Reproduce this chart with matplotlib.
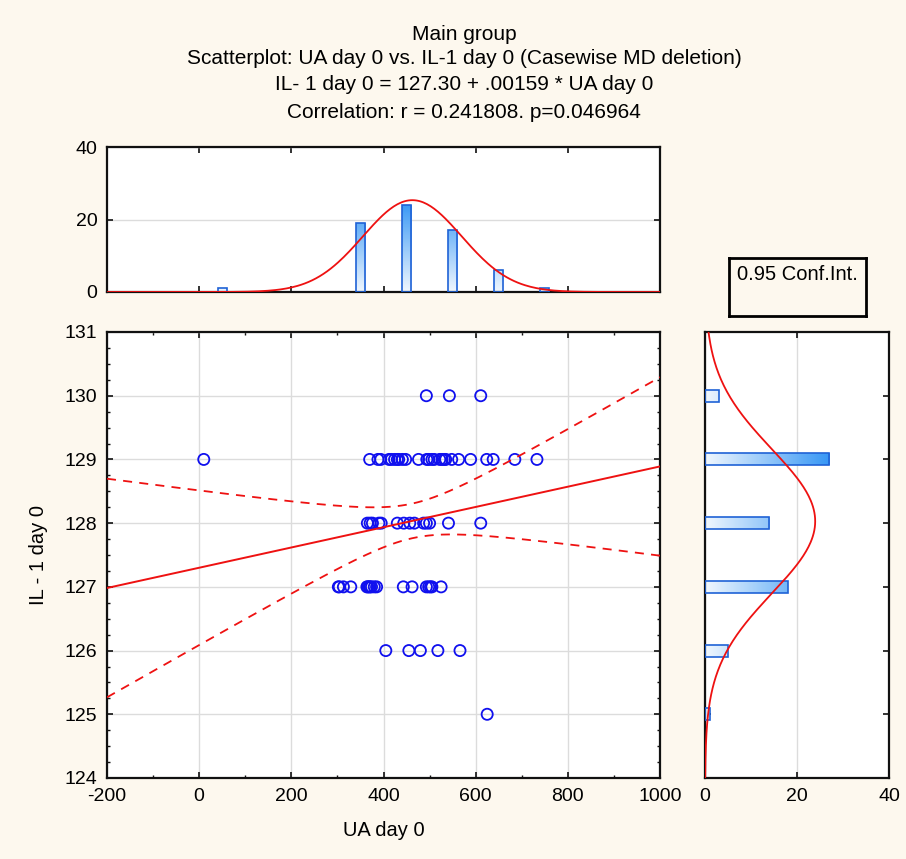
import numpy as np
import matplotlib
matplotlib.use("Agg")
import matplotlib.pyplot as plt
from matplotlib.colors import LinearSegmentedColormap
from matplotlib.ticker import MultipleLocator

plt.rcParams['font.family'] = ['Liberation Sans', 'DejaVu Sans']
plt.rcParams['axes.unicode_minus'] = False

# IL-1 day 0 levels and the UA day 0 values read at each level
il1_levels = [130, 129, 128, 127, 126, 125]
ua_by_level = [
    [493, 543, 611],
    [10, 370, 388, 394, 412, 417, 424, 430, 433, 441, 448, 476, 494, 498,
     505, 510, 522, 527, 532, 535, 548, 563, 589, 624, 638, 685, 733],
    [365, 371, 376, 390, 395, 430, 444, 457, 467, 487, 493, 500, 541, 611],
    [302, 304, 313, 329, 364, 366, 369, 371, 374, 380, 385, 443, 462, 493,
     498, 502, 505, 525],
    [405, 455, 480, 518, 566],
    [625],
]

# fitted line as printed in the header
intercept = 127.30
slope = 0.00159
t_crit = 1.997  # t(0.975, df=66)

title_lines = [
    "Main group",
    "Scatterplot: UA day 0 vs. IL-1 day 0 (Casewise MD deletion)",
    "IL- 1 day 0 = 127.30 + .00159 * UA day 0",
    "Correlation: r = 0.241808. p=0.046964",
]

ua = np.concatenate([np.array(v, float) for v in ua_by_level])
il1 = np.concatenate([np.full(len(v), lv, float) for lv, v in zip(il1_levels, ua_by_level)])
n = len(ua)

bg = '#FDF8EE'
grid_c = '#dcdcdc'
bar_edge = '#1f62d6'
cmap = LinearSegmentedColormap.from_list('bars', ['#f0f7fe', '#3797f5'])

fig = plt.figure(figsize=(9.06, 8.59), dpi=100, facecolor=bg)
W, H = 906, 859


def px_axes(l, t, r, b):
    return fig.add_axes([l / W, 1 - b / H, (r - l) / W, (b - t) / H])


ax = px_axes(107, 332, 660, 778)
axt = px_axes(107, 147, 660, 292)
axr = px_axes(705, 332, 889, 778)
axc = px_axes(729, 258, 866, 316)


def style(a):
    a.set_facecolor('white')
    for s in a.spines.values():
        s.set_linewidth(1.6)
        s.set_color('#111111')
    a.tick_params(which='both', direction='in', top=True, right=True,
                  labelsize=14, color='#111111')
    a.tick_params(which='major', length=4, width=1.2, pad=7)
    a.tick_params(which='minor', length=2.5, width=1)
    a.set_axisbelow(True)


for a in (ax, axt, axr):
    style(a)

# ---- scatter
xl = (-200, 1000)
ax.set_xlim(*xl)
ax.set_ylim(124, 131)
ax.xaxis.set_major_locator(MultipleLocator(200))
ax.xaxis.set_minor_locator(MultipleLocator(100))
ax.yaxis.set_major_locator(MultipleLocator(1))
ax.yaxis.set_minor_locator(MultipleLocator(0.25))
ax.grid(True, which='major', color=grid_c, lw=1)
ax.scatter(ua, il1, s=64, facecolors='none', edgecolors='#1010ee', linewidths=1.3, zorder=3)

xs = np.linspace(xl[0], xl[1], 300)
fit = intercept + slope * xs
resid = il1 - (intercept + slope * ua)
s_res = np.sqrt(np.sum(resid ** 2) / (n - 2))
sxx = np.sum((ua - ua.mean()) ** 2)
half = t_crit * s_res * np.sqrt(1 / n + (xs - ua.mean()) ** 2 / sxx)
ax.plot(xs, fit, color='#ee1111', lw=1.4, zorder=4)
ax.plot(xs, fit + half, color='#ee1111', lw=1.3, ls=(0, (5, 4)), zorder=4)
ax.plot(xs, fit - half, color='#ee1111', lw=1.3, ls=(0, (5, 4)), zorder=4)
ax.set_xlabel("UA day 0", fontsize=14.5, labelpad=12)
ax.set_ylabel("IL - 1 day 0", fontsize=14.5, labelpad=12)


def gradient_bars(a, bars, vmax, horizontal):
    for b in bars:
        x0, y0, w, h = b.get_x(), b.get_y(), b.get_width(), b.get_height()
        if horizontal:
            g = np.linspace(0, w / vmax, 64)[None, :]
        else:
            g = np.linspace(0, h / vmax, 64)[:, None]
        im = a.imshow(g, cmap=cmap, vmin=0, vmax=1, aspect='auto', origin='lower',
                      extent=(x0, x0 + w, y0, y0 + h), zorder=2)
        im.set_clip_path(b)
    a.set_aspect('auto')


# ---- top histogram of UA
x_edges = np.arange(-200, 1100, 100)
x_counts, _ = np.histogram(ua, bins=x_edges)
x_cent = (x_edges[:-1] + x_edges[1:]) / 2
keep = x_counts > 0
bars = axt.bar(x_cent[keep], x_counts[keep], width=20, facecolor='none',
               edgecolor=bar_edge, lw=1.2, zorder=3)
axt.set_xlim(*xl)
axt.set_ylim(0, 40)
gradient_bars(axt, bars, 25, False)
axt.xaxis.set_major_locator(MultipleLocator(200))
axt.yaxis.set_major_locator(MultipleLocator(20))
axt.tick_params(labelbottom=False)
axt.grid(True, axis='y', color=grid_c, lw=1)
mx, sx = ua.mean(), ua.std(ddof=1)
axt.plot(xs, n * 100 * np.exp(-0.5 * ((xs - mx) / sx) ** 2) / (sx * np.sqrt(2 * np.pi)),
         color='#ee1111', lw=1.3, zorder=4)

# ---- right histogram of IL-1
y_edges = np.arange(123.5, 132.5, 1)
y_counts, _ = np.histogram(il1, bins=y_edges)
y_cent = (y_edges[:-1] + y_edges[1:]) / 2
keep = y_counts > 0
bars = axr.barh(y_cent[keep], y_counts[keep], height=0.19, facecolor='none',
                edgecolor=bar_edge, lw=1.2, zorder=3)
axr.set_xlim(0, 40)
axr.set_ylim(124, 131)
gradient_bars(axr, bars, 27, True)
axr.xaxis.set_major_locator(MultipleLocator(20))
axr.yaxis.set_major_locator(MultipleLocator(1))
axr.tick_params(labelleft=False)
axr.grid(True, axis='x', color=grid_c, lw=1)
ys = np.linspace(124, 131, 300)
my, sy = il1.mean(), il1.std(ddof=1)
axr.plot(n * np.exp(-0.5 * ((ys - my) / sy) ** 2) / (sy * np.sqrt(2 * np.pi)), ys,
         color='#ee1111', lw=1.3, zorder=4)

# ---- confidence legend box
axc.set_facecolor(bg)
axc.set_xticks([])
axc.set_yticks([])
for s in axc.spines.values():
    s.set_linewidth(2)
axc.text(0.5, 0.88, "0.95 Conf.Int.", ha='center', va='top', fontsize=14.5,
         transform=axc.transAxes)

# ---- header
for ypx, line in zip([35, 58, 85, 112], title_lines):
    fig.text(464 / W, 1 - ypx / H, line, ha='center', va='center', fontsize=15)

fig.savefig("out.png", dpi=100, facecolor=bg)
